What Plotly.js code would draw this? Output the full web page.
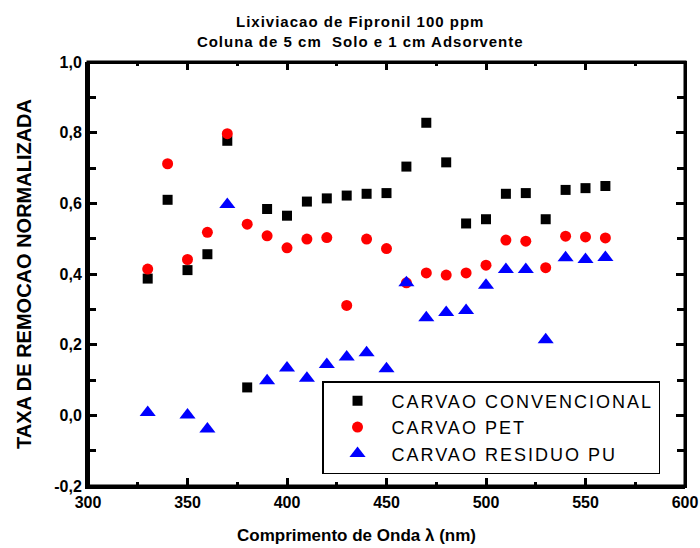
<!DOCTYPE html>
<html><head><meta charset="utf-8">
<script src="https://cdn.plot.ly/plotly-3.0.1.min.js"></script>
<style>body{margin:0;background:#fff}#c{width:700px;height:548px}
#ov{position:absolute;left:0;top:0;width:700px;height:548px;pointer-events:none;z-index:10}
#ov div{position:absolute;background:#000}
#ov div.frame{background:transparent;border:3px solid #000;box-sizing:border-box}
.legendtext{letter-spacing:2px}.gtitle{letter-spacing:1px}</style>
</head><body><div id="c"></div><div id="ov"></div>
<script>
const wavelength = [330,340,350,360,370,380,390,400,410,420,430,440,450,460,470,480,490,500,510,520,530,540,550,560];
const convencional = [0.387,0.610,0.411,0.456,0.777,0.079,0.584,0.565,0.605,0.614,0.622,0.627,0.629,0.704,0.828,0.716,0.543,0.555,0.627,0.629,0.555,0.638,0.643,0.649];
const pet = [0.414,0.712,0.441,0.518,0.797,0.541,0.508,0.474,0.499,0.503,0.311,0.499,0.472,0.375,0.403,0.397,0.403,0.425,0.496,0.493,0.418,0.507,0.505,0.502];
const puX = [330,350,360,370,390,400,410,420,430,440,450,460,470,480,490,500,510,520,530,540,550,560];
const pu = [0.008,0.001,-0.039,0.597,0.098,0.134,0.105,0.144,0.165,0.177,0.132,0.375,0.276,0.291,0.297,0.368,0.413,0.413,0.214,0.446,0.441,0.447];
const xTicks = [300,350,400,450,500,550,600];
const xTickText = ['300','350','400','450','500','550','600'];
const xMinor = [325,375,425,475,525,575];
const yTicks = [-0.2,0,0.2,0.4,0.6,0.8,1.0];
const yTickText = ['-0,2','0,0','0,2','0,4','0,6','0,8','1,0'];
const yMinor = [-0.1,0.1,0.3,0.5,0.7,0.9];
const seriesNames = ['CARVAO CONVENCIONAL','CARVAO PET','CARVAO RESIDUO PU'];

const F = 'Liberation Sans, Arial, sans-serif';
const traces = [
  {x: wavelength, y: convencional, name: seriesNames[0], mode:'markers', type:'scatter',
   marker:{symbol:'square', size:10, color:'#000'}},
  {x: wavelength, y: pet, name: seriesNames[1], mode:'markers', type:'scatter',
   marker:{symbol:'circle', size:11, color:'#ff0000'}},
  {x: puX, y: pu, name: seriesNames[2], mode:'markers', type:'scatter',
   marker:{symbol:'triangle-up', size:14, color:'#0000ff'}}
];
const tickFont = {family:F, size:16, color:'#000', weight:'bold'};
const xBase = {range:[300,600], tickvals:xTicks, ticktext:xTickText, showgrid:false, zeroline:false,
  showline:true, linecolor:'#000', linewidth:3, ticks:'inside', ticklen:8, tickwidth:3, tickcolor:'#000',
  minor:{tickvals:xMinor, ticks:'inside', ticklen:4, tickwidth:3, tickcolor:'#000'}};
const yBase = {range:[-0.2,1.0], tickvals:yTicks, ticktext:yTickText, showgrid:false, zeroline:false,
  showline:true, linecolor:'#000', linewidth:3, ticks:'inside', ticklen:9, tickwidth:3, tickcolor:'#000',
  minor:{tickvals:yMinor, ticks:'inside', ticklen:8, tickwidth:3, tickcolor:'#000'}};
const layout = {
  width:700, height:548,
  margin:{l:88, r:15, t:62, b:62},
  paper_bgcolor:'#fff', plot_bgcolor:'#fff',
  showlegend:true,
  title:{text:'<b>Lixiviacao de Fipronil 100 ppm<br>Coluna de 5 cm  Solo e 1 cm Adsorvente</b>',
    font:{family:F, size:15, color:'#000'}, x:0.456, xref:'paper', xanchor:'center',
    yref:'container', y:1-27/548, yanchor:'middle'},
  xaxis: Object.assign({}, xBase, {tickfont:tickFont}),
  yaxis: Object.assign({}, yBase, {tickfont:tickFont,
    title:{text:'<b>TAXA DE REMOCAO NORMALIZADA</b>', font:{family:F, size:20, color:'#000'}, standoff:18}}),
  shapes:[{type:'rect', xref:'paper', yref:'paper', x0:0, x1:1, y0:0, y1:1, line:{color:'#000', width:3}, layer:'above'}],
  annotations:[{text:'<b>Comprimento de Onda λ (nm)</b>', xref:'paper', yref:'paper',
    x:(356-88)/597, y:-(535-486)/424, xanchor:'center', yanchor:'middle', showarrow:false,
    font:{family:F, size:17, color:'#000'}}],
  legend:{x:0.392, xanchor:'left', y:(486-381)/424, yanchor:'top', bordercolor:'#000', borderwidth:1.5,
    bgcolor:'#fff', font:{family:F, size:18, color:'#000'}, itemwidth:58}
};
const gd = document.getElementById('c');
let built = false;
function buildFrame(){
  if (built || !gd._fullLayout || !gd._fullLayout.xaxis) return;
  built = true;
  const fl = gd._fullLayout, xa = fl.xaxis, ya = fl.yaxis, sz = fl._size;
  const ov = document.getElementById('ov');
  function box(cls, l, t, w, h){ const d=document.createElement('div'); if(cls) d.className=cls;
    d.style.left=l+'px'; d.style.top=t+'px'; d.style.width=w+'px'; d.style.height=h+'px'; ov.appendChild(d); }
  box('frame', sz.l-1.5, sz.t-1.5, sz.w+3, sz.h+3);
  const top = sz.t, bottom = sz.t+sz.h, left = sz.l, right = sz.l+sz.w;
  const px = v => xa._offset + xa.l2p(v), py = v => ya._offset + ya.l2p(v);
  xTicks.forEach(v=>{ const x=px(v); box('', x-1.5, top, 3, 8); box('', x-1.5, bottom-8, 3, 8); });
  xMinor.forEach(v=>{ const x=px(v); box('', x-1.5, top, 3, 4); box('', x-1.5, bottom-4, 3, 4); });
  yTicks.forEach(v=>{ const y=py(v); box('', right-9, y-1.5, 9, 3); box('', left, y-1.5, 9, 3); });
  yMinor.forEach(v=>{ const y=py(v); box('', right-8, y-1.5, 8, 3); box('', left, y-1.5, 8, 3); });
}
const p = Plotly.newPlot(gd, traces, layout, {displayModeBar:false});
try { buildFrame(); } catch(e) {}
Promise.resolve(p).then(()=>{ try { buildFrame(); } catch(e) {} });
</script></body></html>
